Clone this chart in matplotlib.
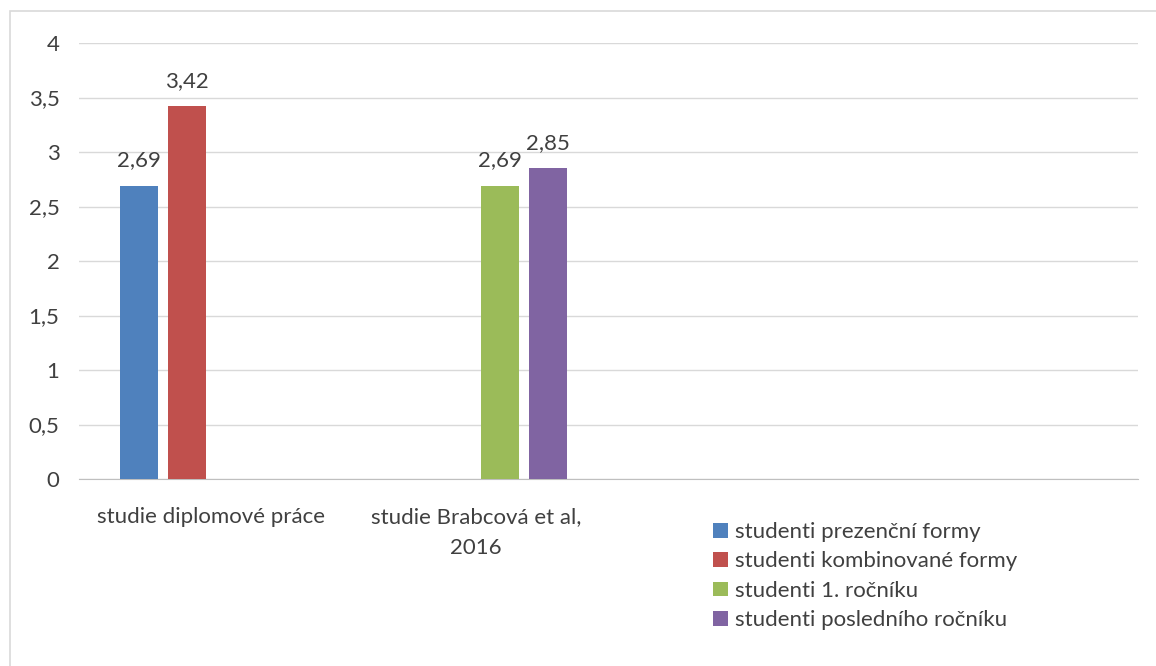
import numpy as np
import matplotlib
matplotlib.use("Agg")
import matplotlib.pyplot as plt
from matplotlib.patches import Rectangle
from matplotlib.ticker import FuncFormatter

plt.rcParams['font.family'] = ['Lato', 'DejaVu Sans']

categories = ["studie diplomové práce", "studie Brabcová et al,\n2016", "", ""]
series_names = ["studenti prezenční formy", "studenti kombinované formy",
                "studenti 1. ročníku", "studenti posledního ročníku"]
prezencni = [2.69, np.nan, np.nan, np.nan]
kombinovane = [3.42, np.nan, np.nan, np.nan]
prvni_rocnik = [np.nan, 2.69, np.nan, np.nan]
posledni_rocnik = [np.nan, 2.85, np.nan, np.nan]
colors = ["#4F81BD", "#C0504D", "#9BBB59", "#8064A2"]
yticks = [0, 0.5, 1, 1.5, 2, 2.5, 3, 3.5, 4]

W, H = 1156, 666
fig = plt.figure(figsize=(W / 100, H / 100), dpi=100)
fig.patch.set_facecolor("white")

# chart border
fig.patches.append(Rectangle((10 / W, -0.1), 1.2, 1 - 11 / H + 0.1, transform=fig.transFigure,
                             fill=False, edgecolor="#D9D9D9", linewidth=1.2))

left, right, top, bottom = 79, 1138, 43, 479
ax = fig.add_axes([left / W, 1 - bottom / H, (right - left) / W, (bottom - top) / H])

text_color = "#404040"
fs = 16
x = np.arange(len(categories))
slot = 0.1813
bw = 0.1435
all_series = [prezencni, kombinovane, prvni_rocnik, posledni_rocnik]
handles = []
for i, (vals, name, c) in enumerate(zip(all_series, series_names, colors)):
    pos = x + (i - 1.5) * slot
    b = ax.bar(pos, vals, width=bw, color=c, label=name, zorder=3)
    handles.append(b)
    for p, v in zip(pos, vals):
        if not np.isnan(v):
            ax.annotate(f"{v:.2f}".replace(".", ","), (p, v), xytext=(0, 11),
                        textcoords="offset points", ha="center", va="bottom",
                        fontsize=fs, color=text_color)

ax.set_xlim(-0.5, len(categories) - 0.5)
ax.set_ylim(0, 4)
ax.set_yticks(yticks)
ax.yaxis.set_major_formatter(FuncFormatter(lambda v, p: f"{v:g}".replace(".", ",")))
ax.set_xticks(x)
ax.set_xticklabels(categories, fontsize=fs, color=text_color, linespacing=1.72,
                   multialignment="center")
ax.tick_params(axis="both", length=0, colors=text_color, labelsize=fs)
ax.tick_params(axis="y", pad=14)
ax.tick_params(axis="x", pad=20)
for s in ["top", "right", "left"]:
    ax.spines[s].set_visible(False)
ax.spines["bottom"].set_color("#BFBFBF")
ax.grid(axis="y", color="#D9D9D9", linewidth=1, zorder=0)
ax.set_axisbelow(True)

fig.legend(handles=handles, labels=series_names, loc="upper left",
           bbox_to_anchor=(702 / W, 1 - 511 / H), frameon=False, fontsize=fs,
           handlelength=0.65, handleheight=0.65, handletextpad=0.35,
           labelspacing=0.42, borderpad=0, labelcolor=text_color)

fig.savefig("out.png", dpi=100, facecolor="white")
